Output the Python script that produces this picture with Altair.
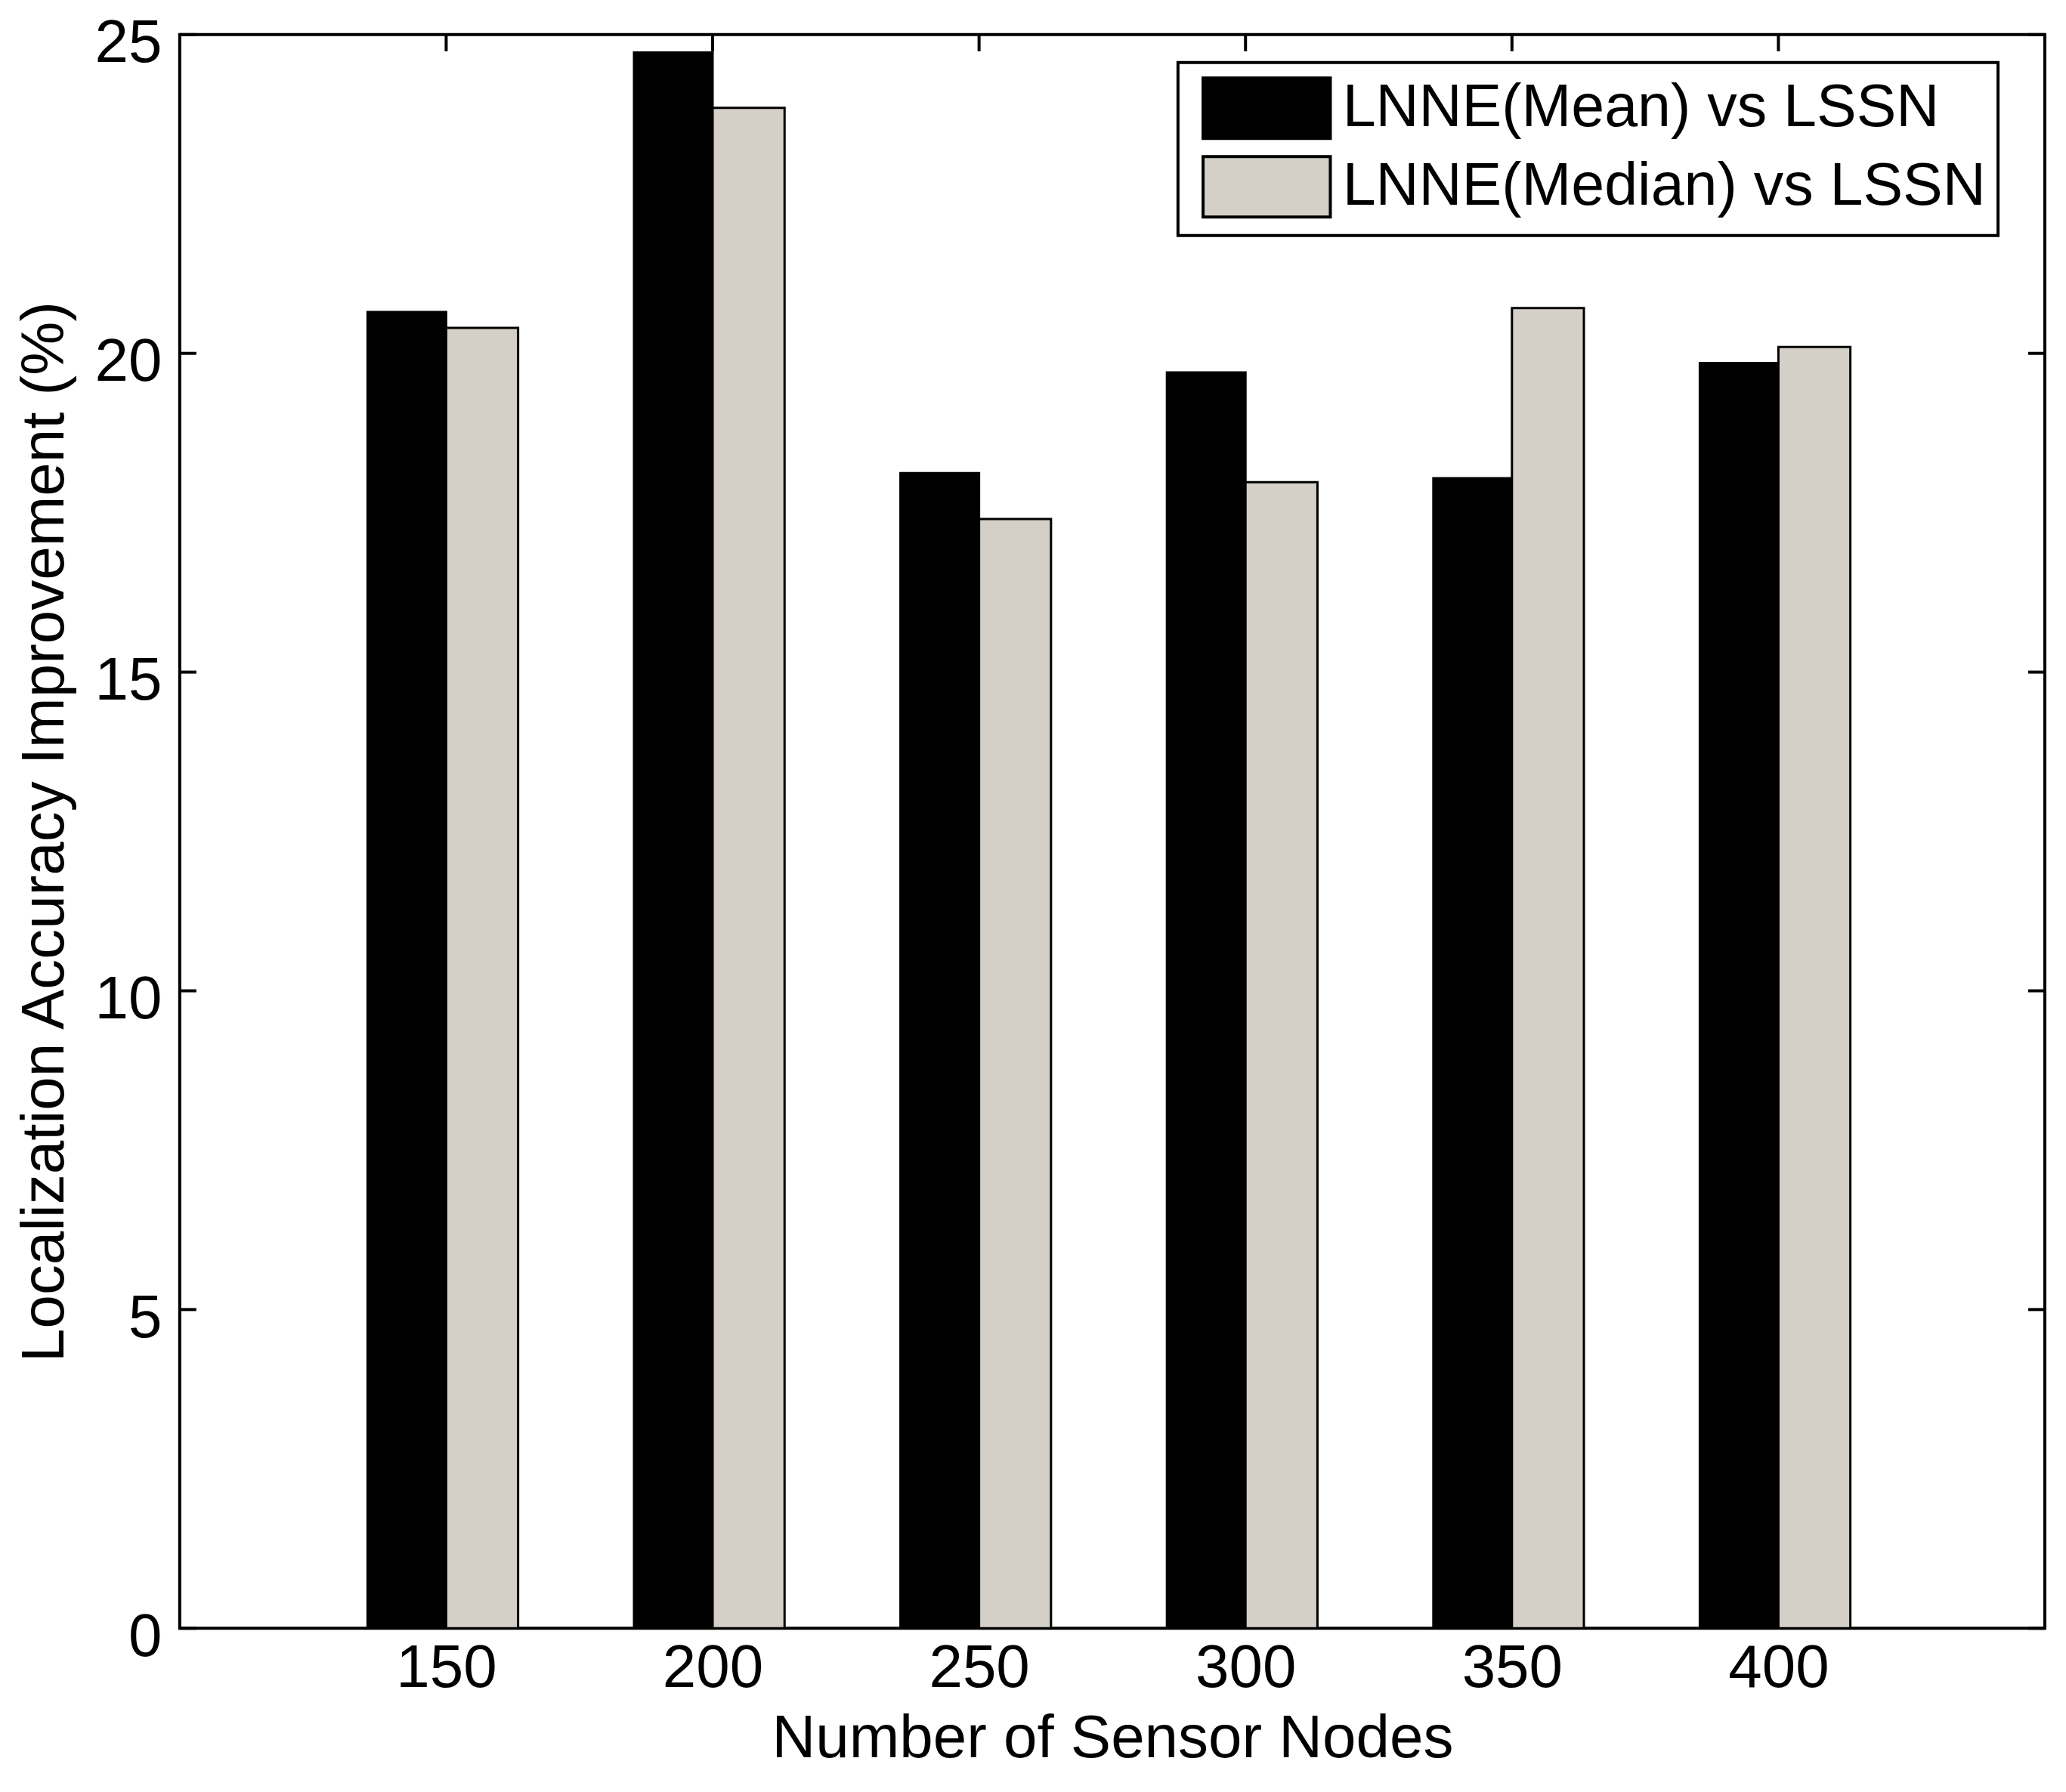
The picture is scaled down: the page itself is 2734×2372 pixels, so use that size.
import altair as alt
import pandas as pd

# ---- data ----
categories = [150, 200, 250, 300, 350, 400]
series_names = ["LNNE(Mean) vs LSSN", "LNNE(Median) vs LSSN"]
mean_vals = [20.65, 24.72, 18.12, 19.70, 18.04, 19.85]
median_vals = [20.40, 23.85, 17.40, 17.98, 20.71, 20.10]
y_ticks = [0, 5, 10, 15, 20, 25]
x_ticks = [1, 2, 3, 4, 5, 6]
x_title = "Number of Sensor Nodes"
y_title = "Localization Accuracy Improvement (%)"

FONT = "Liberation Sans"
W, H = 2470, 2111
BW_MEAN = 0.295   # visible width of the black bar (group units)
BW_MED = 0.27     # visible width of the grey bar (group units)
TICK = 22

rows = []
for i, c in enumerate(categories):
    rows.append({"pos": i + 1, "series": series_names[0], "value": mean_vals[i], "side": -1})
    rows.append({"pos": i + 1, "series": series_names[1], "value": median_vals[i], "side": 1})
bars_df = pd.DataFrame(rows)
yt_df = pd.DataFrame({"v": y_ticks})
xt_df = pd.DataFrame({"v": x_ticks})

xscale = alt.Scale(domain=[0, 7], nice=False, zero=False)
yscale = alt.Scale(domain=[0, 25], nice=False)

label_expr = "[" + ",".join("'%s'" % c for c in categories) + "][datum.value - 1]"

X_AXIS = alt.Axis(values=x_ticks, labelExpr=label_expr, ticks=False, domain=False,
                  grid=False, labelFontSize=80, labelPadding=14, labelColor="black",
                  titleFontSize=80, titleFontWeight="normal", titlePadding=14,
                  titleColor="black", labelFont=FONT, titleFont=FONT)
Y_AXIS = alt.Axis(values=y_ticks, ticks=False, domain=False, grid=False,
                  labelFontSize=80, labelPadding=24, labelOffset=12, labelColor="black",
                  titleFontSize=80, titleFontWeight="normal", titlePadding=24,
                  titleColor="black", labelFont=FONT, titleFont=FONT)

bars = alt.Chart(bars_df).transform_calculate(
    x0="datum.side < 0 ? datum.pos - %f : datum.pos" % BW_MEAN,
    x1="datum.side < 0 ? datum.pos : datum.pos + %f" % BW_MED,
).mark_bar(stroke="black", strokeWidth=3).encode(
    x=alt.X("x0:Q", scale=xscale, title=x_title, axis=X_AXIS),
    x2="x1:Q",
    y=alt.Y("value:Q", scale=yscale, title=y_title, axis=Y_AXIS),
    y2=alt.datum(0),
    fill=alt.Fill("series:N",
                  scale=alt.Scale(domain=series_names, range=["#000000", "#d4d0c8"]),
                  legend=alt.Legend(title=None, orient="none", legendX=1322, legendY=37,
                                    strokeColor="black", fillColor="white",
                                    padding=16, symbolType="M-2,-0.95H2V0.95H-2Z",
                                    symbolSize=7100, symbolOffset=57,
                                    symbolStrokeColor="black",
                                    symbolStrokeWidth=4, labelFontSize=79, labelFont=FONT,
                                    labelColor="black", labelOffset=56, labelLimit=2000)),
)

left_ticks = alt.Chart(yt_df).mark_rule(color="black", strokeWidth=4).encode(
    y=alt.Y("v:Q", scale=yscale, title=y_title, axis=Y_AXIS), x=alt.value(0), x2=alt.value(TICK))
right_ticks = alt.Chart(yt_df).mark_rule(color="black", strokeWidth=4).encode(
    y=alt.Y("v:Q", scale=yscale, title=y_title, axis=Y_AXIS), x=alt.value(W - TICK), x2=alt.value(W))
top_ticks = alt.Chart(xt_df).mark_rule(color="black", strokeWidth=4).encode(
    x=alt.X("v:Q", scale=xscale, title=x_title, axis=X_AXIS), y=alt.value(0), y2=alt.value(TICK))
bottom_ticks = alt.Chart(xt_df).mark_rule(color="black", strokeWidth=4).encode(
    x=alt.X("v:Q", scale=xscale, title=x_title, axis=X_AXIS), y=alt.value(H - TICK), y2=alt.value(H))

chart = alt.layer(left_ticks, right_ticks, top_ticks, bottom_ticks, bars).properties(
    width=W, height=H,
    background="white",
    autosize=alt.AutoSizeParams(type="none"),
    padding={"left": 230, "top": 37, "right": 20, "bottom": 200},
).configure_view(stroke="black", strokeWidth=4).configure_legend(strokeWidth=4, rowPadding=7)

chart.save("out.html", embed_options={"renderer": "svg", "actions": False})
